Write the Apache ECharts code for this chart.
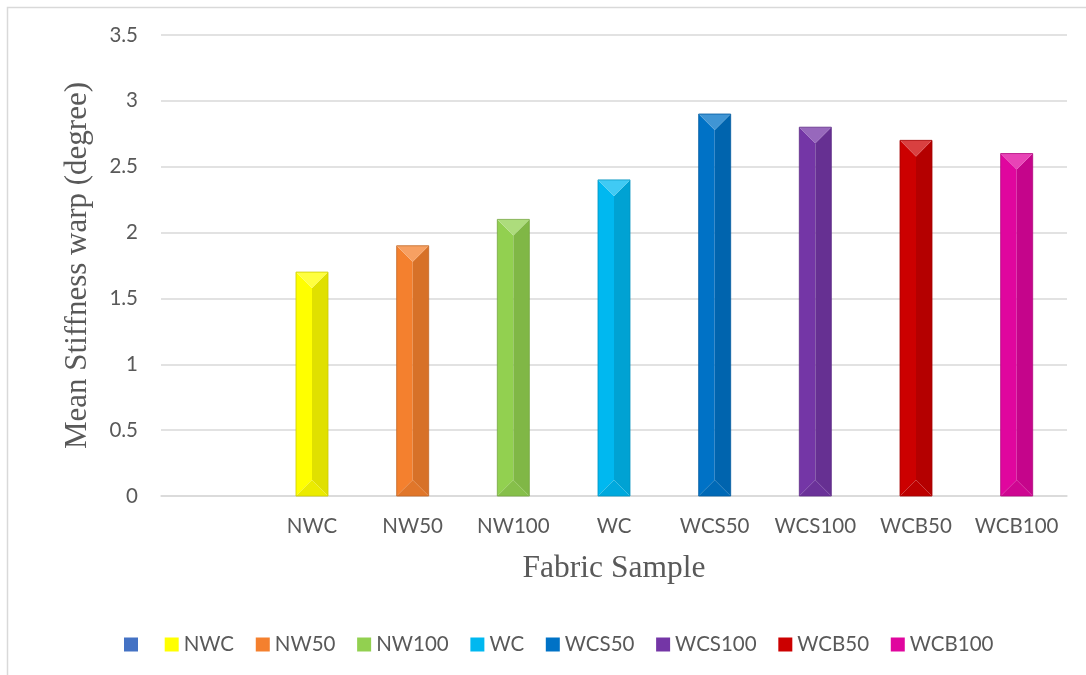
<!DOCTYPE html>
<html>
<head>
<meta charset="utf-8">
<title>Mean Stiffness warp</title>
<script src="https://cdn.jsdelivr.net/npm/echarts@6/dist/echarts.min.js"></script>
<style>
  html, body { margin: 0; padding: 0; background: #ffffff; }
  #chart { width: 1086px; height: 675px; }
</style>
</head>
<body>
<div id="chart"></div>
<script>
// Fabric samples along the x axis (the first slot is left empty)
const categories = ['', 'NWC', 'NW50', 'NW100', 'WC', 'WCS50', 'WCS100', 'WCB50', 'WCB100'];
// Mean stiffness in the warp direction, degrees
const stiffness = [null, 1.7, 1.9, 2.1, 2.4, 2.9, 2.8, 2.7, 2.6];
// Fill colour of each sample
const sampleColors = ['#4472C4', '#FFFF00', '#F4802E', '#92D050', '#00B8F0', '#0072C6', '#7436A6', '#CC0000', '#E0069E'];
// Value axis range and step
const yMin = 0, yMax = 3.5, yStep = 0.5;

const BAR_RATIO = 0.318;
const TEXT = '#595959';
const GRID_LINE = '#d9d9d9';
const LABEL_SIZE = 20.5;

function mix(hex, target, amt) {
  const n = parseInt(hex.slice(1), 16);
  const r = (n >> 16) & 255, g = (n >> 8) & 255, b = n & 255;
  const t = target === 'white' ? 255 : 0;
  const f = c => Math.round(c + (t - c) * amt);
  return 'rgb(' + f(r) + ',' + f(g) + ',' + f(b) + ')';
}

// Bevelled column: lit top facet, shaded right half, darker bottom facet
function renderBevel(params, api) {
  const cat = api.value(0), val = api.value(1);
  const top = api.coord([cat, val]);
  const base = api.coord([cat, 0]);
  const w = api.size([1, 0])[0] * BAR_RATIO;
  const xc = top[0], x0 = xc - w / 2, x1 = xc + w / 2;
  const yT = top[1], yB = base[1];
  const d = Math.min(w / 2, (yB - yT) / 2);
  const c = api.visual('color');
  const poly = (pts, fill) => ({ type: 'polygon', shape: { points: pts }, style: { fill: fill } });
  return {
    type: 'group',
    children: [
      poly([[x0, yT], [xc, yT + d], [xc, yB - d], [x0, yB]], c),
      poly([[xc, yT + d], [x1, yT], [x1, yB], [xc, yB - d]], mix(c, 'black', 0.12)),
      poly([[x0, yT], [x1, yT], [xc, yT + d]], mix(c, 'white', 0.25)),
      poly([[x0, yB], [xc, yB - d], [x1, yB]], mix(c, 'black', 0.08)),
      { type: 'rect', shape: { x: x0, y: yT, width: w, height: yB - yT },
        style: { fill: 'none', stroke: mix(c, 'black', 0.2), lineWidth: 0.8 } }
    ]
  };
}

const seriesNames = categories.map(c => c === '' ? '\u200b' : c);

const series = categories.map((cat, i) => ({
  type: 'custom',
  name: seriesNames[i],
  renderItem: renderBevel,
  itemStyle: { color: sampleColors[i] },
  encode: { x: 0, y: 1 },
  data: stiffness[i] == null ? [] : [[i, stiffness[i]]]
}));

const chart = echarts.init(document.getElementById('chart'), null, { renderer: 'canvas' });
chart.setOption({
  backgroundColor: '#ffffff',
  animation: false,
  graphic: [{
    type: 'rect', silent: true, z: -10,
    shape: { x: 7.5, y: 7.5, width: 1200, height: 800 },
    style: { fill: 'none', stroke: GRID_LINE, lineWidth: 1.5 }
  }],
  grid: { left: 161, right: 19, top: 35, bottom: 179 },
  xAxis: {
    type: 'category',
    data: categories,
    name: 'Fabric Sample',
    nameLocation: 'middle',
    nameGap: 57,
    nameTextStyle: { fontFamily: 'Liberation Serif', fontSize: 31.5, color: TEXT },
    axisLine: { lineStyle: { color: GRID_LINE, width: 1.5 } },
    axisTick: { show: false },
    axisLabel: { interval: 0, fontFamily: 'Lato', fontSize: LABEL_SIZE, color: TEXT, margin: 20 }
  },
  yAxis: {
    type: 'value',
    min: yMin, max: yMax, interval: yStep,
    name: 'Mean Stiffness warp (degree)',
    nameLocation: 'middle',
    nameGap: 68,
    nameTextStyle: { fontFamily: 'Liberation Serif', fontSize: 31, color: TEXT },
    axisLine: { show: false },
    axisTick: { show: false },
    axisLabel: { fontFamily: 'Lato', fontSize: LABEL_SIZE, color: TEXT, margin: 23 },
    splitLine: { lineStyle: { color: GRID_LINE, width: 1.5 } }
  },
  legend: {
    data: seriesNames,
    left: 119,
    top: 629,
    icon: 'rect',
    itemWidth: 14,
    itemHeight: 14,
    itemGap: 21.7,
    textStyle: { fontFamily: 'Lato', fontSize: LABEL_SIZE, color: TEXT }
  },
  series: series
});
</script>
</body>
</html>
